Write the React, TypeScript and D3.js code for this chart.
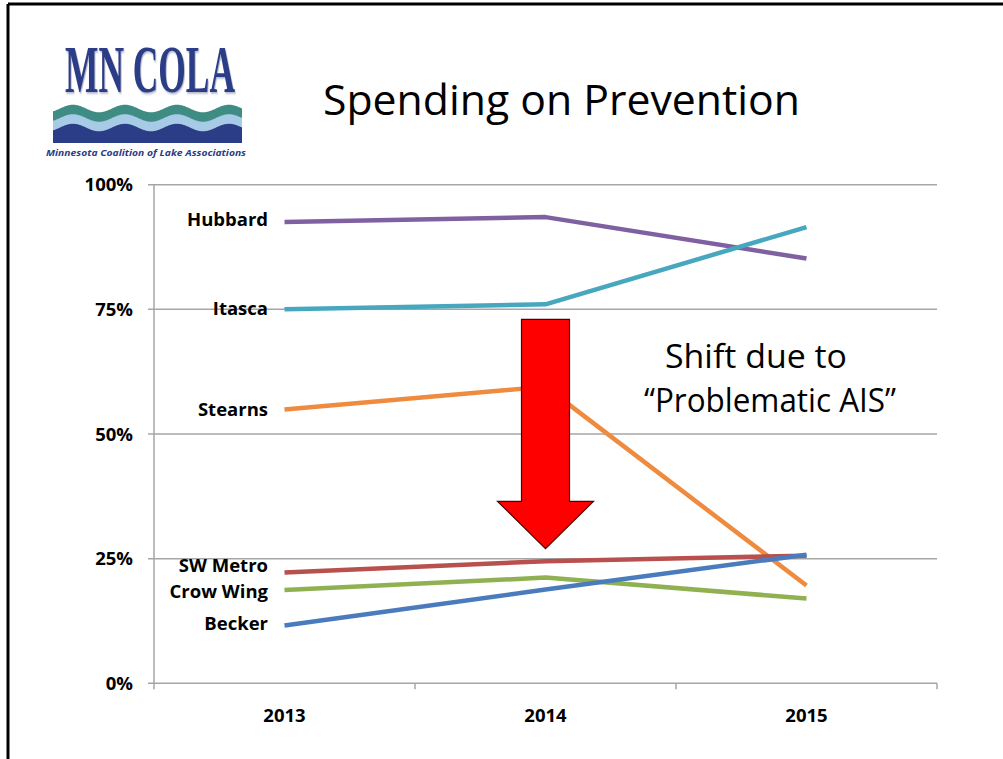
import React from "react";
import * as d3 from "d3";

const years = ["2013", "2014", "2015"];
const seriesNames = ["Hubbard", "Itasca", "Stearns", "SW Metro", "Crow Wing", "Becker"];
const hubbard = [0.925, 0.935, 0.852];
const itasca = [0.75, 0.76, 0.915];
const stearns = [0.549, 0.595, 0.196];
const swMetro = [0.222, 0.245, 0.256];
const crowWing = [0.187, 0.212, 0.17];
const becker = [0.116, 0.188, 0.258];
const seriesValues = [hubbard, itasca, stearns, swMetro, crowWing, becker];
const seriesColors = ["#7F60A0", "#47A7BF", "#EE8B3E", "#B8504E", "#8FB152", "#4A7CBD"];
const yTicks = [0, 0.25, 0.5, 0.75, 1];
const labelDy = [4, 6, 6, -1, 8, 5];

const W = 1003;
const H = 759;
const LEFT = 154;
const RIGHT = 937;
const TOP = 184.7;
const BOTTOM = 683.3;
const FONT = "'Open Sans', 'DejaVu Sans', sans-serif";

export default function App() {
  const x = d3.scaleBand<string>().domain(years).range([LEFT, RIGHT]);
  const y = d3.scaleLinear().domain([0, 1]).range([BOTTOM, TOP]);
  const cx = (yr: string) => (x(yr) as number) + x.bandwidth() / 2;
  const line = d3
    .line<number>()
    .x((_, i) => cx(years[i]))
    .y((v) => y(v));
  const fmt = d3.format(".0%");

  // logo waves (decoration)
  const waveX0 = 53;
  const waveX1 = 242;
  const period = 52;
  const amp = 3.8;
  const waveY = (xx: number, base: number) =>
    base + amp * Math.sin(((xx - 73) / period) * 2 * Math.PI - Math.PI / 2);
  const xs = d3.range(waveX0, waveX1 + 0.5, 1);
  const band = (top: number, bottom: number | null) => {
    const area = d3
      .area<number>()
      .x((d) => d)
      .y0((d) => (bottom === null ? 143 : waveY(d, bottom)))
      .y1((d) => waveY(d, top));
    return area(xs) as string;
  };

  // arrow geometry, anchored on 2014 category
  const ax = cx("2014");
  const aTop = y(0.73);
  const aHead = y(0.365);
  const aTip = y(0.27);
  const shaftHalf = 24;
  const headHalf = 48;
  const arrowPts = [
    [ax - shaftHalf, aTop],
    [ax + shaftHalf, aTop],
    [ax + shaftHalf, aHead],
    [ax + headHalf, aHead],
    [ax, aTip],
    [ax - headHalf, aHead],
    [ax - shaftHalf, aHead],
  ]
    .map((p) => p.join(","))
    .join(" ");

  const boundaries = years.map((yr) => x(yr) as number).concat([RIGHT]);
  const logoScale = 0.52;

  return (
    <svg
      width={W}
      height={H}
      style={{ position: "absolute", left: 0, top: 0, background: "#fff" }}
      fontFamily={FONT}
    >
      <defs>
        <filter id="logoShadow" x="-10%" y="-10%" width="120%" height="130%">
          <feDropShadow dx={1.5} dy={1.5} stdDeviation={0.8} floodColor="#6a7398" floodOpacity={0.6} />
        </filter>
      </defs>
      <rect x={0} y={0} width={W} height={H} fill="#fff" />
      {/* slide border */}
      <line x1={8} y1={4} x2={W} y2={4} stroke="#000" strokeWidth={3} />
      <line x1={8} y1={4} x2={8} y2={H} stroke="#000" strokeWidth={3} />

      {/* logo */}
      <g transform={`translate(65,92) scale(${logoScale},1)`}>
        <text
          x={0}
          y={0}
          fontFamily="'Liberation Serif', 'DejaVu Serif', serif"
          fontWeight={700}
          fontSize={68}
          fill="#2B3D86"
          textLength={170 / logoScale}
          lengthAdjust="spacingAndGlyphs"
          filter="url(#logoShadow)"
        >
          MN COLA
        </text>
      </g>
      <path d={band(127, null)} fill="#2B3D86" />
      <path d={band(117.5, 127.5)} fill="#A7CAE6" />
      <path d={band(108.5, 118)} fill="#3E8C84" />
      <text
        x={46}
        y={156}
        fontSize={9.5}
        fontStyle="italic"
        fontWeight={700}
        fill="#2B3D86"
        textLength={200}
        lengthAdjust="spacingAndGlyphs"
      >
        Minnesota Coalition of Lake Associations
      </text>

      {/* title */}
      <text
        x={323}
        y={115}
        fontSize={42}
        fill="#000"
        textLength={477}
        lengthAdjust="spacingAndGlyphs"
      >
        Spending on Prevention
      </text>

      {/* gridlines and y ticks */}
      {yTicks.map((t) => (
        <g key={t}>
          <line x1={148} x2={RIGHT} y1={y(t)} y2={y(t)} stroke="#A6A6A6" strokeWidth={1.5} />
          <text
            x={133}
            y={y(t) + 6.5}
            textAnchor="end"
            fontSize={18.5}
            fontWeight={700}
            fill="#000"
          >
            {fmt(t)}
          </text>
        </g>
      ))}
      <line x1={LEFT} x2={LEFT} y1={TOP} y2={BOTTOM} stroke="#A6A6A6" strokeWidth={1.5} />
      {boundaries.map((b, i) => (
        <line key={i} x1={b} x2={b} y1={BOTTOM} y2={BOTTOM + 6} stroke="#A6A6A6" strokeWidth={1.5} />
      ))}
      {years.map((yr) => (
        <text
          key={yr}
          x={cx(yr)}
          y={722}
          textAnchor="middle"
          fontSize={18.5}
          fontWeight={700}
          fill="#000"
        >
          {yr}
        </text>
      ))}

      {/* series */}
      {seriesValues.map((vals, i) => (
        <path
          key={seriesNames[i]}
          d={line(vals) as string}
          fill="none"
          stroke={seriesColors[i]}
          strokeWidth={4.5}
          strokeLinejoin="round"
        />
      ))}
      {seriesValues.map((vals, i) => (
        <text
          key={"l" + seriesNames[i]}
          x={268}
          y={y(vals[0]) + labelDy[i]}
          textAnchor="end"
          fontSize={18.5}
          fontWeight={700}
          fill="#000"
        >
          {seriesNames[i]}
        </text>
      ))}

      {/* arrow */}
      <polygon points={arrowPts} fill="#FF0000" stroke="#3a0a0a" strokeWidth={1.2} strokeLinejoin="miter" />

      {/* annotation */}
      <text x={665} y={368} fontSize={32} fill="#000" textLength={182} lengthAdjust="spacingAndGlyphs">
        Shift due to
      </text>
      <text x={644} y={412} fontSize={32} fill="#000" textLength={252} lengthAdjust="spacingAndGlyphs">
        “Problematic AIS”
      </text>
    </svg>
  );
}
